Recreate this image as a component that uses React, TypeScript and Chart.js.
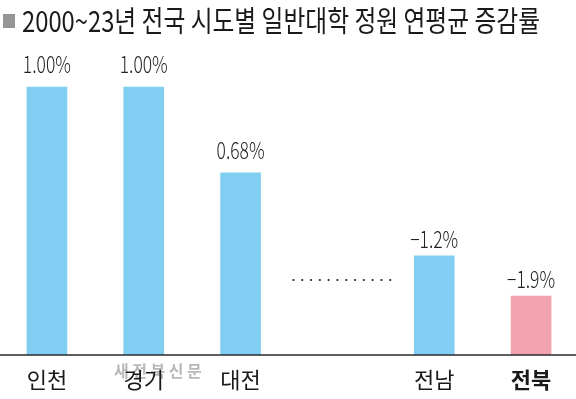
import React, { useEffect, useRef } from "react";
import { Chart, registerables } from "chart.js";

Chart.register(...registerables);

const TITLE = "2000~23년 전국 시도별 일반대학 정원 연평균 증감률";
const categories = ["인천", "경기", "대전", "", "전남", "전북"];
// bar heights as drawn in the graphic (not proportional to sign)
const barHeights = [1.0, 1.0, 0.68, null, 0.37, 0.22];
const valueLabels = ["1.00%", "1.00%", "0.68%", "", "−1.2%", "−1.9%"];
const barColors = ["#80CEF2", "#80CEF2", "#80CEF2", "#80CEF2", "#80CEF2", "#F2A2AC"];
const gapDotLevel = 0.28;
const WATERMARK = "새전북신문";

const FONT = "'Noto Sans CJK KR', 'Noto Sans', sans-serif";

export default function App() {
  const ref = useRef<HTMLCanvasElement>(null);
  useEffect(() => {
    const canvas = ref.current!;
    const deco = {
      id: "deco",
      afterLayout(chart: any) {
        const xs = chart.scales.x;
        xs.left = -1.5;
        xs.right = 579.5;
        xs.width = xs.right - xs.left;
        xs.configure();
      },
      beforeDraw(chart: any) {
        const ctx = chart.ctx;
        ctx.save();
        ctx.font = `700 16px ${FONT}`;
        ctx.fillStyle = "rgba(160,160,160,0.75)";
        ctx.textAlign = "left";
        ctx.textBaseline = "alphabetic";
        (ctx as any).letterSpacing = "3.5px";
        ctx.fillText(WATERMARK, 114, 377);
        (ctx as any).letterSpacing = "0px";
        ctx.restore();
      },
      afterDraw(chart: any) {
        const ctx = chart.ctx;
        const xs = chart.scales.x;
        const ys = chart.scales.y;
        ctx.save();
        // title square
        ctx.fillStyle = "#959595";
        ctx.fillRect(3, 14, 12, 14);
        // title text condensed
        ctx.font = `400 29px ${FONT}`;
        ctx.fillStyle = "#1a1a1a";
        ctx.textBaseline = "alphabetic";
        ctx.textAlign = "left";
        const tw = ctx.measureText(TITLE).width;
        const sx = 518 / tw;
        ctx.save();
        ctx.translate(22, 32);
        ctx.scale(sx, 1);
        ctx.fillText(TITLE, 0, 0);
        ctx.restore();
        // value labels
        const meta = chart.getDatasetMeta(0);
        ctx.font = `300 23px ${FONT}`;
        ctx.fillStyle = "#222";
        ctx.textAlign = "center";
        meta.data.forEach((bar: any, i: number) => {
          const lbl = valueLabels[i];
          if (!lbl || barHeights[i] == null) return;
          const gap = lbl.startsWith("−") ? 8 : 14;
          ctx.save();
          ctx.translate(bar.x, bar.y - gap);
          ctx.scale(0.76, 1);
          ctx.fillText(lbl, 0, 0);
          ctx.restore();
        });
        // dotted gap line
        const cx = xs.getPixelForValue(3);
        const dy = ys.getPixelForValue(gapDotLevel);
        ctx.fillStyle = "#222";
        for (let k = 0; k < 12; k++) {
          const px = cx - 48 + 4 + k * 8.8;
          ctx.beginPath();
          ctx.arc(px, dy, 1.1, 0, Math.PI * 2);
          ctx.fill();
        }
        // axis baseline
        const by = ys.getPixelForValue(0);
        ctx.strokeStyle = "#2a2a2a";
        ctx.lineWidth = 1.5;
        ctx.beginPath();
        ctx.moveTo(0, by);
        ctx.lineTo(576, by);
        ctx.stroke();
        ctx.restore();
      },
    };
    const chart = new Chart(canvas, {
      type: "bar",
      data: {
        labels: categories,
        datasets: [
          {
            data: barHeights as any,
            backgroundColor: barColors,
            barThickness: 40,
          },
        ],
      },
      options: {
        animation: false,
        responsive: false,
        layout: { padding: { top: 47, left: 0, right: 0, bottom: 0 } },
        plugins: { legend: { display: false }, tooltip: { enabled: false }, title: { display: false } },
        scales: {
          x: {
            grid: { display: false, drawTicks: false },
            border: { display: false },
            ticks: {
              color: "#1a1a1a",
              padding: 11,
              font: (c: any) => ({
                family: FONT,
                size: 22,
                weight: c.index === 5 ? "bold" : "normal",
              }),
            },
            afterFit: (s: any) => {
              s.height = 44;
            },
          },
          y: {
            display: false,
            min: 0,
            max: 1.15,
          },
        },
      },
      plugins: [deco],
    });
    return () => chart.destroy();
  }, []);
  return (
    <div style={{ position: "fixed", left: 0, top: 0, width: 576, height: 399, background: "#fff" }}>
      <canvas ref={ref} width={576} height={399} />
    </div>
  );
}
